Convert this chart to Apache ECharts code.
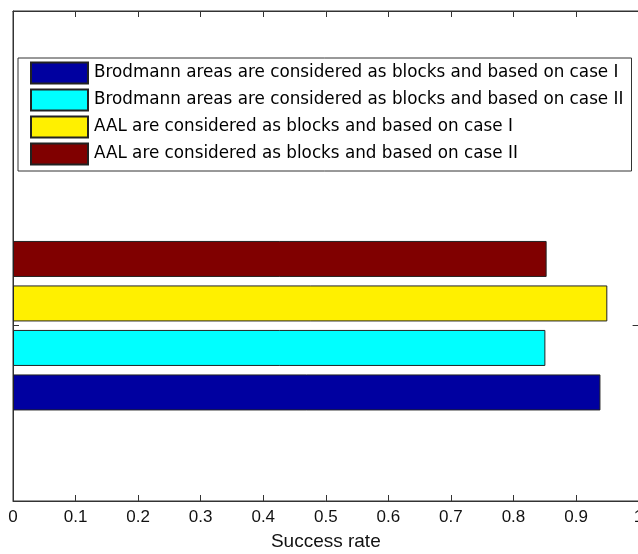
<!DOCTYPE html>
<html>
<head>
<meta charset="utf-8">
<script src="https://cdn.jsdelivr.net/npm/echarts@6/dist/echarts.min.js"></script>
<style>
  html, body { margin: 0; padding: 0; background: #fff; }
  #chart { width: 638px; height: 554px; }
</style>
</head>
<body>
<div id="chart"></div>
<script>
// Success rate per blocking scheme (one group, four bars)
const seriesNames = [
  'Brodmann areas are considered as blocks and based on case I',
  'Brodmann areas are considered as blocks and based on case II',
  'AAL are considered as blocks and based on case I',
  'AAL are considered as blocks and based on case II'
];
const seriesValues = [0.939, 0.851, 0.950, 0.853];
const seriesColors = ['#0000a0', '#00ffff', '#fff000', '#800000'];
const groupLabel = ['1'];
const xTicks = [0, 0.1, 0.2, 0.3, 0.4, 0.5, 0.6, 0.7, 0.8, 0.9, 1];

const LABEL_FONT = 'Liberation Sans, Arial, sans-serif';
const LEGEND_FONT = 'DejaVu Sans, sans-serif';
const chart = echarts.init(document.getElementById('chart'));

// outer frame with the value axis, and a band that holds the grouped bars
const frame = { left: 13, top: 11, width: 625.6, height: 490, outerBoundsMode: 'none' };
const barBand = { left: 13, top: 230.7, width: 625.6, height: 190, outerBoundsMode: 'none' };

// the first series is stacked from the bottom of the group upwards,
// so bars are added in reverse order; the legend keeps the original order
const series = seriesNames.map((name, i) => ({
  name: name,
  type: 'bar',
  xAxisIndex: 2,
  yAxisIndex: 1,
  data: [seriesValues[i]],
  barWidth: 36,
  barGap: '23.6%',
  itemStyle: { color: seriesColors[i], borderColor: '#222', borderWidth: 1 },
  silent: true
})).reverse();

chart.setOption({
  animation: false,
  backgroundColor: '#fff',
  legend: {
    orient: 'vertical',
    left: 30,
    top: 61.5,
    padding: 0,
    itemWidth: 57,
    itemHeight: 21,
    itemGap: 4,
    icon: 'rect',
    textStyle: { fontFamily: LEGEND_FONT, fontSize: 16.8, lineHeight: 21, color: '#000', padding: [0, 0, 0, 1] },
    data: seriesNames
  },
  grid: [
    Object.assign({ show: true, borderColor: '#333', borderWidth: 1, backgroundColor: 'transparent' }, frame),
    barBand
  ],
  xAxis: [
    {
      gridIndex: 0, type: 'value', min: 0, max: 1, interval: 0.1, position: 'bottom',
      axisLine: { show: true, lineStyle: { color: '#333' } },
      axisTick: { show: true, inside: true, length: 6, lineStyle: { color: '#333' } },
      splitLine: { show: false },
      axisLabel: {
        fontFamily: LABEL_FONT, fontSize: 17, color: '#111', margin: 8,
        formatter: v => {
          const t = Math.round(v * 10) / 10;
          return xTicks.indexOf(t) >= 0 ? String(t) : '';
        }
      },
      name: 'Success rate', nameLocation: 'middle', nameGap: 31,
      nameTextStyle: { fontFamily: LABEL_FONT, fontSize: 19, color: '#111' }
    },
    {
      gridIndex: 0, type: 'value', min: 0, max: 1, interval: 0.1, position: 'top',
      axisLine: { show: true, lineStyle: { color: '#333' } },
      axisTick: { show: true, inside: true, length: 6, lineStyle: { color: '#333' } },
      axisLabel: { show: false }, splitLine: { show: false }
    },
    {
      gridIndex: 1, type: 'value', min: 0, max: 1, show: false
    }
  ],
  yAxis: [
    {
      gridIndex: 0, type: 'value', min: 0, max: 1,
      axisLine: { show: true, lineStyle: { color: '#333' } },
      axisTick: { show: false }, axisLabel: { show: false }, splitLine: { show: false }
    },
    {
      gridIndex: 1, type: 'category', data: groupLabel,
      axisLine: { show: false },
      axisTick: { show: true, inside: true, alignWithLabel: true, length: 6, lineStyle: { color: '#333' } },
      axisLabel: { show: false }, splitLine: { show: false }
    },
    {
      gridIndex: 1, type: 'category', data: groupLabel, position: 'right',
      axisLine: { show: false },
      axisTick: { show: true, inside: true, alignWithLabel: true, length: 6, lineStyle: { color: '#333' } },
      axisLabel: { show: false }, splitLine: { show: false }
    }
  ],
  graphic: [
    {
      type: 'rect', left: 17.5, top: 57.5, z: -1,
      shape: { width: 613.5, height: 113 },
      style: { fill: '#fff', stroke: '#333', lineWidth: 1 }
    }
  ],
  series: series
});
</script>
</body>
</html>
